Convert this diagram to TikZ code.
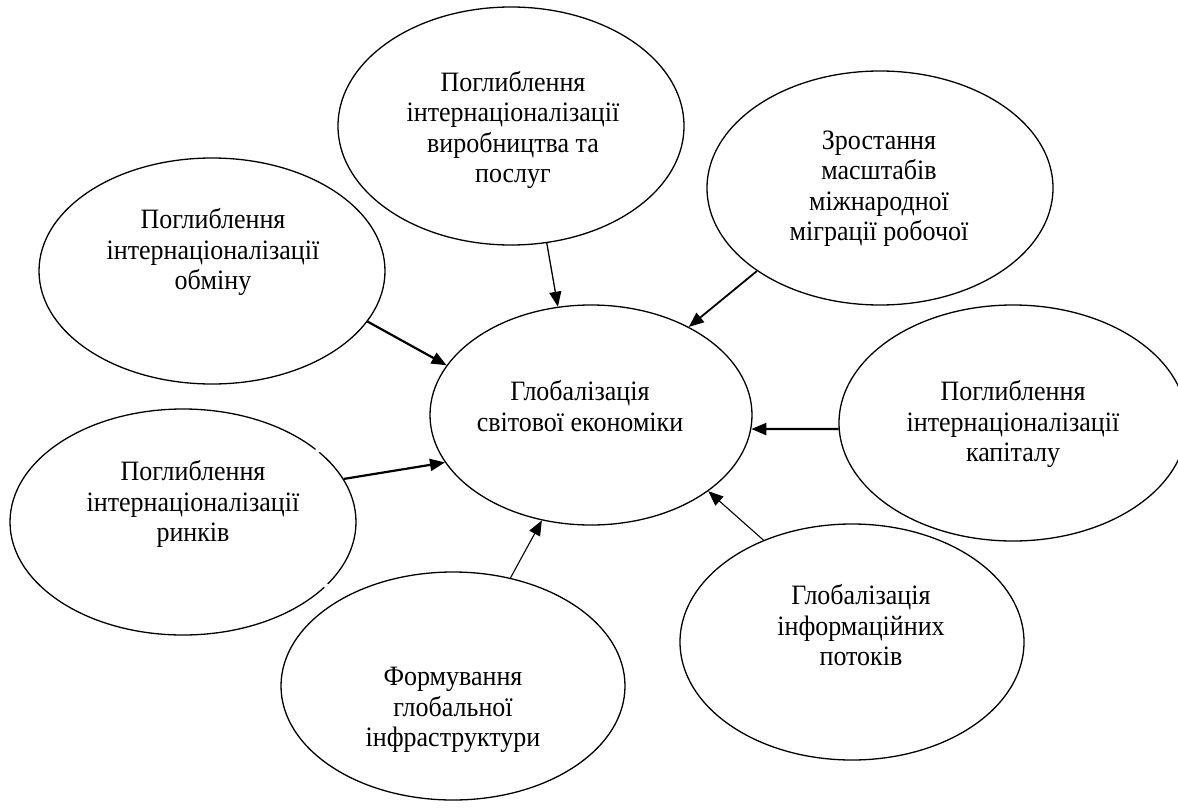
\documentclass[tikz,border=0pt]{standalone}
\usepackage{fontspec}
\usepackage{graphicx}
\setmainfont{Liberation Serif}
\usetikzlibrary{shapes.geometric,arrows.meta}
% captions are set in a slightly tall, stretched face
\newcommand\tallstack[1]{\scalebox{1}[1.08]{\begin{tabular}{@{}c@{}}#1\end{tabular}}}
\begin{document}
\begin{tikzpicture}[x=1pt,y=-1pt,
  bubble/.style={ellipse, draw, line width=1.3pt, inner sep=0pt},
  caption/.style={inner sep=0pt, font=\fontsize{26}{28.2}\selectfont},
  link/.style={-{Triangle[length=15pt,width=12pt]}, line width=1.3pt},
  boldlink/.style={link, line width=2.2pt}]
\fill[white] (0,0) rectangle (1178,808);
\useasboundingbox (0,0) rectangle (1178,808);

% outer factors
\node[bubble, minimum width=346pt, minimum height=238pt] (A) at (511,126) {};
\node[caption] (At) at (513,131) {\tallstack{Поглиблення\\інтернаціоналізації\\виробництва та\\послуг}};

\node[bubble, minimum width=346pt, minimum height=234pt] (B) at (880,188) {};
\node[caption] (Bt) at (879,189) {\tallstack{Зростання\\масштабів\\міжнародної\\міграції робочої}};

\node[bubble, minimum width=346pt, minimum height=226pt] (C) at (212,271) {};
\node[caption] (Ct) at (213,253) {\tallstack{Поглиблення\\інтернаціоналізації\\обміну}};

\node[bubble, minimum width=348pt, minimum height=236pt] (E) at (1013,423) {};
\node[caption] (Et) at (1013,425) {\tallstack{Поглиблення\\інтернаціоналізації\\капіталу}};

\node[bubble, minimum width=346pt, minimum height=226pt] (F) at (183,522) {};
\node[caption] (Ft) at (193,505) {\tallstack{Поглиблення\\інтернаціоналізації\\ринків}};
% two small breaks in the right-hand outline of this ellipse
\fill[white] (F.28.4) circle[radius=2.6pt];
\fill[white] (F.-24.2) circle[radius=2.6pt];

\node[bubble, minimum width=344pt, minimum height=228pt] (G) at (453,686) {};
\node[caption] (Gt) at (453,710) {\tallstack{Формування\\глобальної\\інфраструктури}};

\node[bubble, minimum width=344pt, minimum height=236pt] (H) at (852,642) {};
\node[caption] (Ht) at (861,629) {\tallstack{Глобалізація\\інформаційних\\потоків}};

% central result
\node[bubble, minimum width=322pt, minimum height=220pt] (D) at (591,415) {};
\node[caption] (Dt) at (580,410) {\tallstack{Глобалізація\\світової економіки}};

% influences
\draw[link] (A.-73.8) -- (D.107.8);
\draw[link, line width=1.8pt] (B.214.4) -- (D.42.1);
\draw[boldlink] (C.-18.8) -- (D.161.2);
\draw[boldlink] (E.182.5) -- (D.-5.6);
\draw[boldlink] (F.15.4) -- (D.198.6);
\draw[link, line width=1.1pt] (G.62.8) -- (D.245.5);
\draw[link, line width=1.1pt] (H.131.7) -- (D.-33.2);
\end{tikzpicture}
\end{document}
